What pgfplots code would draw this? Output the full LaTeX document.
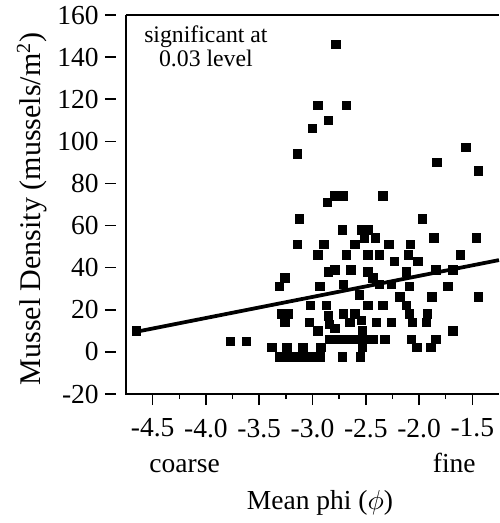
\documentclass[border=0pt]{standalone}
\usepackage{pgfplots}
\pgfplotsset{compat=1.18}
\usepackage{fontspec}
\setmainfont{Liberation Serif}

% mussel density vs mean phi
\pgfplotstableread{
x y
-2.78 146
-2.95 117
-2.68 117
-2.85 110
-3.00 106
-3.14 94
-1.83 90
-1.56 97
-1.44 86
-2.86 71
-2.79 74
-2.71 74
-2.34 74
-3.12 63
-2.72 58
-2.54 58
-2.48 58
-2.51 54
-2.41 54
-1.97 63
-1.86 54
-1.46 54
-2.08 51
-2.10 46
-2.01 43
-1.61 46
-2.12 38
-1.84 39
-1.68 39
-2.09 31
-1.73 31
-1.88 26
-1.44 26
-2.12 22
-2.09 18
-2.06 14
-1.92 18
-1.93 14
-1.68 10
-2.07 6
-2.02 2
-1.84 6
-1.89 2
-3.14 51
-2.89 51
-2.95 46
-2.85 38
-3.26 35
-3.31 31
-2.93 31
-3.02 22
-2.87 22
-3.29 18
-3.23 18
-3.26 14
-3.03 14
-2.95 10
-2.85 17
-2.84 13
-2.84 6
-2.92 2
-3.38 2
-3.24 2
-3.09 2
-3.31 -2.5
-3.23 -2.5
-3.16 -2.5
-3.08 -2.5
-3.01 -2.5
-2.93 -2.5
-2.72 -2.5
-2.55 -2.5
-2.60 51
-2.28 51
-2.48 46
-2.37 46
-2.23 43
-2.79 39
-2.64 39
-2.48 38
-2.43 35
-2.71 32
-2.37 32
-2.26 32
-2.56 27
-2.18 26
-2.48 22
-2.34 22
-2.71 18
-2.60 18
-2.54 15
-2.40 14
-2.26 14
-2.79 11
-2.53 10
-2.65 14
-2.79 6
-2.72 6
-2.645 6
-2.57 6
-2.49 6
-2.43 6
-2.32 6
-2.53 2
-3.77 5
-3.62 5
-4.65 10
-2.68 46
}\density

\begin{document}
\begin{tikzpicture}
\begin{axis}[
    at={(0,0)}, anchor=south west,
    scale only axis,
    width=149.2pt, height=151.6pt,
    xmin=-4.75, xmax=-1.25,
    ymin=-20, ymax=160,
    clip=false,
    axis line style={draw=none},
    tick align=outside,
    xtick={-4.5,-4.0,...,-1.5},
    minor x tick num=1,
    ytick={-20,0,...,160},
    xtick pos=bottom, ytick pos=left,
    x tick style={black, line width=0.6pt},
    y tick style={black, line width=0.6pt, xshift=-4pt},
    x tick label style={/pgf/number format/.cd, fixed, fixed zerofill, precision=1, /tikz/.cd, yshift=-2pt},
    y tick label style={xshift=-3pt},
    /pgf/number format/assume math mode=true,
    tick label style={font=\fontsize{11}{13}\selectfont},
    major tick length=4.4pt, minor tick length=2pt,
]
\draw[line width=0.9pt] (rel axis cs:0,1) -- (rel axis cs:0,0) -- (rel axis cs:1,0);
\draw[line width=0.7pt] (rel axis cs:0,1) -- (rel axis cs:1,1);

\addplot[only marks, mark=square*, mark size=1.7pt, black] table {\density};
\addplot[black, line width=1.5pt] coordinates {(-4.65,9.6) (-1.25,43.6)};

\node[align=center, font=\fontsize{9.5}{8.6}\selectfont] at (axis cs:-4.0,145) {significant at\\0.03 level};
\node[anchor=base, font=\fontsize{11}{13}\selectfont] at (axis cs:-4.2,-57.5) {coarse};
\node[anchor=base, font=\fontsize{11}{13}\selectfont] at (axis cs:-1.67,-57.5) {fine};
\node[anchor=base, font=\fontsize{11}{13}\selectfont] at (axis cs:-2.93,-75) {Mean phi ($\phi$)};
\node[anchor=base, rotate=90, font=\fontsize{12}{14}\selectfont] at (axis cs:-4.75,68) [yshift=34pt] {Mussel Density (mussels/m\textsuperscript{2})};
\end{axis}
\pgfresetboundingbox
\useasboundingbox (-50.4pt,-51.6pt) rectangle (149.6pt,157.6pt);
\end{tikzpicture}
\end{document}
